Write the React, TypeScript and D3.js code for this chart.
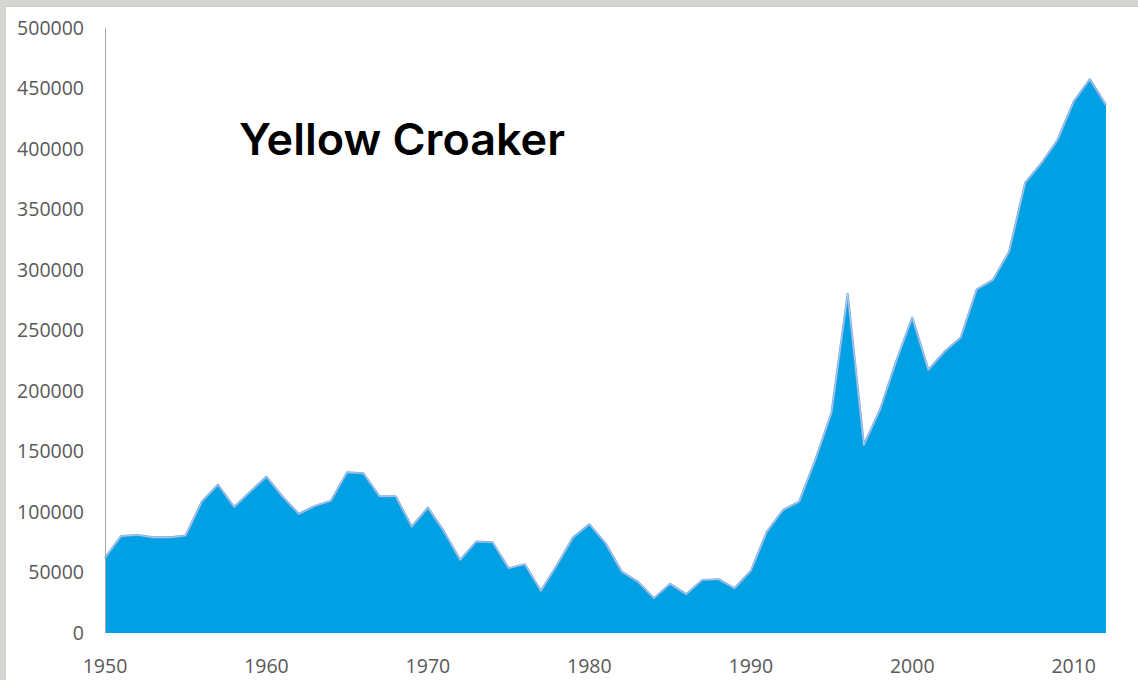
import React from "react";
import * as d3 from "d3";

const years: number[] = d3.range(1950, 2013);
const catch_t: number[] = [
  62000, 80000, 81000, 79000, 79000, 80500, 108500, 122500, 104000, 116800,
  129000, 112600, 98300, 105000, 109300, 132800, 132000, 113000, 113000, 87800,
  103500, 83700, 60300, 75500, 75000, 53500, 56800, 34700, 56200, 79000,
  89800, 74100, 50700, 42400, 28700, 40500, 32000, 43800, 44400, 36900,
  51200, 83700, 101600, 108500, 143000, 182000, 280000, 155400, 184300, 224200,
  260600, 217300, 232500, 244000, 284000, 291700, 315100, 372100, 388200, 407400,
  439100, 457500, 436300,
];
const yTicks: number[] = [0, 50000, 100000, 150000, 200000, 250000, 300000, 350000, 400000, 450000, 500000];
const xTicks: number[] = [1950, 1960, 1970, 1980, 1990, 2000, 2010];
const title = "Yellow Croaker";

export default function App() {
  const W = 1138, H = 680;
  const x = d3.scaleLinear().domain([1950, 2012]).range([105, 1106]);
  const y = d3.scaleLinear().domain([0, 500000]).range([633, 28]);
  const data = years.map((yr, i) => ({ yr, v: catch_t[i] }));
  const area = d3.area<{ yr: number; v: number }>()
    .x(d => x(d.yr)).y0(y(0)).y1(d => y(d.v));
  const line = d3.line<{ yr: number; v: number }>()
    .x(d => x(d.yr)).y(d => y(d.v));
  const font = "'Open Sans', 'Noto Sans', sans-serif";
  return (
    <svg width={W} height={H} style={{ position: "absolute", left: 0, top: 0 }}>
      <rect x={0} y={0} width={W} height={H} fill="#d6d6d0" />
      <rect x={6} y={6} width={W - 6} height={H - 6} fill="#ffffff" />
      <line x1={6} x2={W} y1={6.5} y2={6.5} stroke="#c8c8c4" strokeWidth={1} />
      <path d={area(data) || ""} fill="#00a1e4" />
      <path d={line(data) || ""} fill="none" stroke="#6fa6dc" strokeWidth={2.2} strokeLinejoin="round" />
      <path d={line(data) || ""} fill="none" stroke="#cfe4f6" strokeWidth={0.6} strokeLinejoin="round" />
      <line x1={105.5} x2={105.5} y1={y(500000)} y2={y(0)} stroke="#a6a6a6" strokeWidth={1} />
      {yTicks.map(t => (
        <text key={t} x={84} y={y(t)} dy="0.35em" textAnchor="end" fontFamily={font} fontSize={19.5} fill="#595959">
          {t}
        </text>
      ))}
      {xTicks.map(t => (
        <text key={t} x={x(t)} y={673} textAnchor="middle" fontFamily={font} fontSize={19.5} fill="#595959">
          {t}
        </text>
      ))}
      <text x={239} y={155} fontFamily="Inter, 'Open Sans', sans-serif" fontWeight={600} fontSize={44} fill="#000000"
        textLength={326} lengthAdjust="spacingAndGlyphs">
        {title}
      </text>
    </svg>
  );
}
